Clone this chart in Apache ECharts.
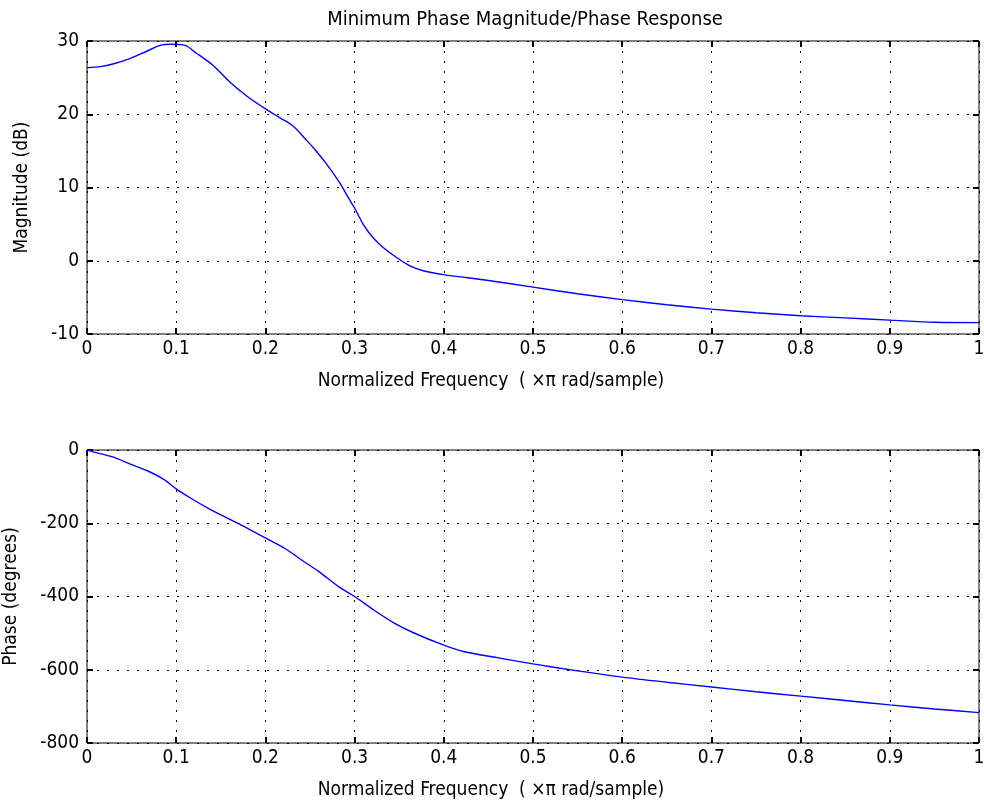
<!DOCTYPE html>
<html>
<head>
<meta charset="utf-8">
<script src="https://cdn.jsdelivr.net/npm/echarts@6/dist/echarts.min.js"></script>
<style>
  html, body { margin: 0; padding: 0; background: #fff; }
  #main { width: 984px; height: 807px; }
</style>
</head>
<body>
<div id="main"></div>
<script>
// magnitude response (dB)
var magFreq = [0, 0.015, 0.03, 0.048, 0.067, 0.082, 0.095, 0.11, 0.122, 0.142, 0.161, 0.179, 0.198, 0.215, 0.231, 0.245, 0.254, 0.268, 0.283, 0.294, 0.3, 0.31, 0.321, 0.332, 0.347, 0.362, 0.377, 0.4, 0.45, 0.5, 0.55, 0.6, 0.65, 0.7, 0.75, 0.8, 0.85, 0.9, 0.95, 1.0];
var magDb = [26.35, 26.5, 26.9, 27.6, 28.6, 29.4, 29.55, 29.4, 28.4, 26.6, 24.3, 22.5, 20.9, 19.6, 18.4, 16.6, 15.4, 13.3, 10.7, 8.4, 7.2, 4.9, 3.1, 1.8, 0.45, -0.7, -1.36, -1.9, -2.7, -3.6, -4.5, -5.3, -6.0, -6.6, -7.1, -7.5, -7.8, -8.1, -8.4, -8.45];

// phase response (degrees)
var phFreq = [0, 0.007, 0.029, 0.048, 0.067, 0.086, 0.1, 0.116, 0.135, 0.154, 0.173, 0.2, 0.222, 0.241, 0.26, 0.282, 0.3, 0.321, 0.344, 0.366, 0.4, 0.423, 0.46, 0.5, 0.55, 0.6, 0.65, 0.7, 0.75, 0.8, 0.85, 0.9, 0.95, 1.0];
var phDeg = [0, -5, -19, -38, -56, -80, -106, -131, -158, -182, -205, -240, -269, -301, -332, -373, -400, -436, -472, -499, -533, -551, -567, -584, -603, -620, -634, -647, -660, -672, -684, -696, -707, -717];

var xLabel = 'Normalized Frequency  ( ×π rad/sample)';
var titleText = 'Minimum Phase Magnitude/Phase Response';

var font = '"DejaVu Sans Condensed", "Liberation Sans Narrow", "Liberation Sans", sans-serif';
var fs = 19;

function pairs(xs, ys) {
    var out = [];
    for (var i = 0; i < xs.length; i++) out.push([xs[i], ys[i]]);
    return out;
}

var dotted = { color: '#000', width: 1, type: [2, 8] };
var tick = { show: true, inside: true, length: 6, lineStyle: { color: '#000', width: 2 } };

function xAx(grid, main) {
    return {
        type: 'value', gridIndex: grid, min: 0, max: 1, interval: 0.1,
        position: main ? 'bottom' : 'top',
        name: main ? xLabel : '', nameLocation: 'middle', nameGap: 38,
        nameTextStyle: { color: '#000', fontSize: fs, fontFamily: font, padding: [0, 84, 0, 0] },
        axisLine: { show: false, onZero: false },
        axisTick: tick,
        axisLabel: {
            show: main, color: '#000', fontSize: fs, fontFamily: font, margin: 6,
            formatter: function (v) { return String(Math.round(v * 10) / 10); }
        },
        splitLine: { show: main, lineStyle: dotted }
    };
}

function yAx(grid, main, min, max, step, name, gap) {
    return {
        type: 'value', gridIndex: grid, min: min, max: max, interval: step,
        position: main ? 'left' : 'right',
        name: main ? name : '', nameLocation: 'middle', nameGap: gap, nameRotate: 90,
        nameTextStyle: { color: '#000', fontSize: fs, fontFamily: font },
        axisLine: { show: false, onZero: false },
        axisTick: tick,
        axisLabel: { show: main, color: '#000', fontSize: fs, fontFamily: font, margin: 8 },
        splitLine: { show: main, lineStyle: dotted }
    };
}

var myChart = echarts.init(document.getElementById('main'));

var option = {
    backgroundColor: '#fff',
    animation: false,
    title: {
        text: titleText, left: 520, top: 5, textAlign: 'center',
        textStyle: { color: '#000', fontSize: 20, fontWeight: 'normal', fontFamily: font }
    },
    grid: [
        { left: 87, top: 41, width: 892, height: 293, show: true, borderColor: '#000', borderWidth: 1, outerBoundsMode: 'none' },
        { left: 87, top: 450, width: 892, height: 293, show: true, borderColor: '#000', borderWidth: 1, outerBoundsMode: 'none' }
    ],
    xAxis: [xAx(0, true), xAx(0, false), xAx(1, true), xAx(1, false)],
    yAxis: [
        yAx(0, true, -10, 30, 10, 'Magnitude (dB)', 55),
        yAx(0, false, -10, 30, 10, '', 0),
        yAx(1, true, -800, 0, 200, 'Phase (degrees)', 66),
        yAx(1, false, -800, 0, 200, '', 0)
    ],
    series: [
        {
            type: 'line', xAxisIndex: 0, yAxisIndex: 0, data: pairs(magFreq, magDb),
            smooth: 0.3, symbol: 'none', lineStyle: { color: '#0000ff', width: 1.4 }
        },
        {
            type: 'line', xAxisIndex: 2, yAxisIndex: 2, data: pairs(phFreq, phDeg),
            smooth: 0.3, symbol: 'none', lineStyle: { color: '#0000ff', width: 1.4 }
        }
    ]
};

myChart.setOption(option);
window.onresize = function () {
    myChart.resize();
};
</script>
</body>
</html>
